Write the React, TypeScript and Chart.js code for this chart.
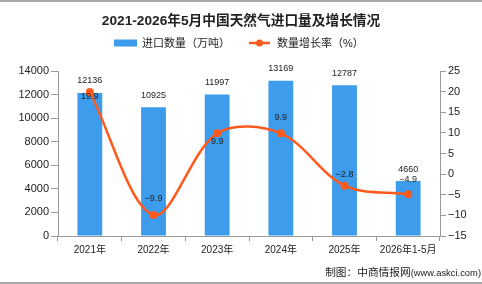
import React, { useEffect, useRef } from "react";
import { Chart, registerables } from "chart.js";

Chart.register(...registerables);

// Natural-gas imports by year (10k tonnes) and year-on-year growth (%)
const categories = ["2021年", "2022年", "2023年", "2024年", "2025年", "2026年1-5月"];
const importVolume = [12136, 10925, 11997, 13169, 12787, 4660];
const growthRate = [19.9, -9.9, 9.9, 9.9, -2.8, -4.9];

const volumeAxis = { min: 0, max: 14000, step: 2000 };
const rateAxis = { min: -15, max: 25, step: 5 };

const TITLE = "2021-2026年5月中国天然气进口量及增长情况";
const VOLUME_NAME = "进口数量（万吨）";
const RATE_NAME = "数量增长率（%）";
const SOURCE_CN = "制图：中商情报网";
const SOURCE_URL = "(www.askci.com)";

// vertical lift of each growth label relative to its point (px, positive = up)
const rateLabelLift = [-4, 16, -8, 16, 11, 15];

const BLUE = "#3d9cec";
const ORANGE = "#ff5a1e";
const AXIS = "#9a9a9a";
const TEXT = "#222";
const FONT = '"Liberation Sans", "Noto Sans CJK SC", sans-serif';

const minus = (v: number | string) => String(v).replace("-", "\u2212");

const decorations = {
  id: "decorations",
  afterDatasetsDraw(chart: any) {
    const ctx: CanvasRenderingContext2D = chart.ctx;
    const W = chart.width;
    const H = chart.height;
    ctx.save();

    // frame lines
    ctx.fillStyle = "#a8a8a8";
    ctx.fillRect(0, 0, W, 2);
    ctx.fillRect(0, H - 2, W, 2);

    // title
    ctx.fillStyle = TEXT;
    ctx.textAlign = "center";
    ctx.textBaseline = "middle";
    ctx.font = `bold 13.7px ${FONT}`;
    ctx.fillText(TITLE, W / 2, 21.5);

    // legend
    ctx.font = `11px ${FONT}`;
    ctx.textAlign = "left";
    ctx.fillStyle = BLUE;
    ctx.fillRect(114, 39.5, 23, 7);
    ctx.fillStyle = TEXT;
    ctx.fillText(VOLUME_NAME, 142, 43.5);
    ctx.strokeStyle = ORANGE;
    ctx.lineWidth = 2.5;
    ctx.beginPath();
    ctx.moveTo(249, 43);
    ctx.lineTo(270, 43);
    ctx.stroke();
    ctx.fillStyle = ORANGE;
    ctx.beginPath();
    ctx.arc(259.5, 43, 3.5, 0, Math.PI * 2);
    ctx.fill();
    ctx.fillStyle = TEXT;
    ctx.fillText(RATE_NAME, 277, 43.5);

    // value labels
    ctx.textAlign = "center";
    ctx.font = `9px ${FONT}`;
    const bars = chart.getDatasetMeta(0).data;
    bars.forEach((bar: any, i: number) => {
      ctx.fillText(String(importVolume[i]), bar.x, bar.y - 12);
    });
    const pts = chart.getDatasetMeta(1).data;
    pts.forEach((p: any, i: number) => {
      ctx.fillText(minus(growthRate[i].toFixed(1)), p.x, p.y - rateLabelLift[i]);
    });

    // source note
    ctx.textAlign = "right";
    ctx.font = `9.4px ${FONT}`;
    const urlW = ctx.measureText(SOURCE_URL).width;
    ctx.fillText(SOURCE_URL, W - 1, 273.5);
    ctx.font = `10.7px ${FONT}`;
    ctx.fillText(SOURCE_CN, W - 1 - urlW, 273.5);

    ctx.restore();
  },
};

export default function App() {
  const canvasRef = useRef<HTMLCanvasElement | null>(null);

  useEffect(() => {
    const canvas = canvasRef.current;
    if (!canvas) return;
    const tickFont = { family: FONT, size: 11 };
    const chart = new Chart(canvas, {
      type: "bar",
      data: {
        labels: categories,
        datasets: [
          {
            type: "bar",
            label: VOLUME_NAME,
            data: importVolume,
            backgroundColor: BLUE,
            categoryPercentage: 1,
            barPercentage: 0.39,
            yAxisID: "y",
            order: 1,
          },
          {
            type: "line",
            label: RATE_NAME,
            data: growthRate,
            borderColor: ORANGE,
            borderWidth: 2.5,
            backgroundColor: ORANGE,
            pointBackgroundColor: ORANGE,
            pointBorderWidth: 0,
            pointRadius: 4,
            tension: 0.33,
            yAxisID: "y1",
            order: 0,
          },
        ],
      },
      options: {
        responsive: false,
        animation: false,
        devicePixelRatio: 1,
        layout: { padding: { top: 71, left: 0, right: 0, bottom: 0 } },
        plugins: {
          legend: { display: false },
          title: { display: false },
          tooltip: { enabled: false },
        },
        scales: {
          x: {
            offset: true,
            grid: { offset: true, drawOnChartArea: false, tickLength: 5, color: AXIS },
            border: { color: AXIS },
            ticks: { color: TEXT, font: { family: FONT, size: 10 }, padding: 3, maxRotation: 0, autoSkip: false },
            afterFit: (s: any) => {
              s.height = 48;
            },
          },
          y: {
            position: "left",
            min: volumeAxis.min,
            max: volumeAxis.max,
            ticks: {
              stepSize: volumeAxis.step,
              color: TEXT,
              font: tickFont,
              padding: 2,
              callback: (v: any) => String(v),
            },
            grid: { drawOnChartArea: false, tickLength: 7, color: AXIS },
            border: { color: AXIS },
            afterFit: (s: any) => {
              s.width = 58;
            },
          },
          y1: {
            position: "right",
            min: rateAxis.min,
            max: rateAxis.max,
            ticks: {
              stepSize: rateAxis.step,
              color: TEXT,
              font: tickFont,
              padding: 2,
              callback: (v: any) => minus(v),
            },
            grid: { drawOnChartArea: false, tickLength: 6, color: AXIS },
            border: { color: AXIS },
            afterFit: (s: any) => {
              s.width = 42;
            },
          },
        },
      },
      plugins: [decorations],
    } as any);
    return () => chart.destroy();
  }, []);

  return (
    <div style={{ position: "fixed", left: 0, top: 0, width: 482, height: 284, background: "#fff" }}>
      <canvas ref={canvasRef} width={482} height={284} style={{ display: "block" }} />
    </div>
  );
}
